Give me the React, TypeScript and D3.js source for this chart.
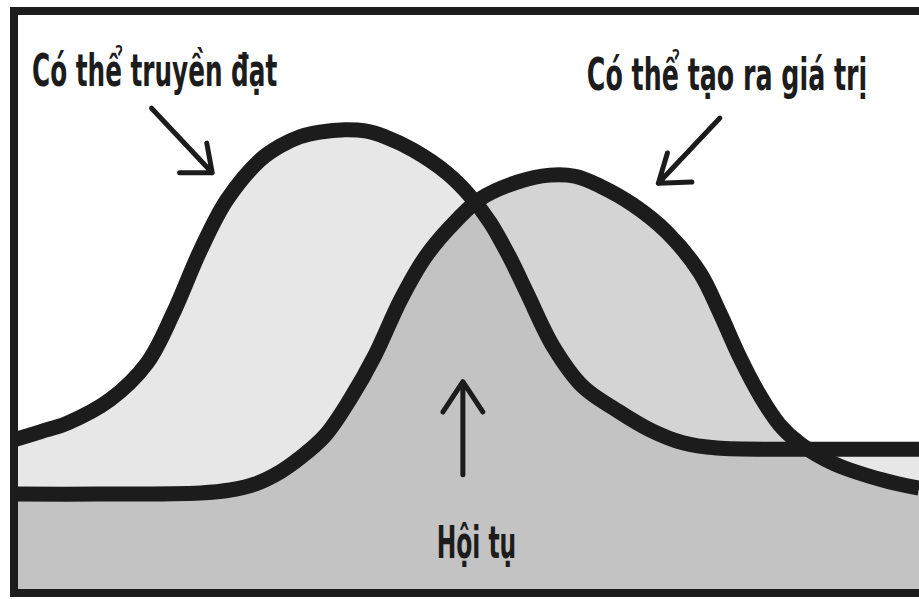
import React, { useLayoutEffect, useRef, useState } from "react";
import * as d3 from "d3";

// x in 0..100 (left frame -> right edge), y in 0..100 (bottom frame -> top frame)
const curveAX = [0, 2.9, 5.9, 10.6, 14.7, 17.6, 20.6, 23.5, 27.2, 29.4, 31.6, 33.8, 36.6, 38.8, 41.0, 44.1, 47.8, 50.4, 52.6, 54.8, 56.7, 59.6, 62.9, 66.6, 70.3, 73.9, 77.7, 86.9, 100];
const curveAY = [26.3, 27.7, 29.2, 33.2, 39.5, 48.1, 58.9, 67.5, 74.4, 76.8, 78.4, 79.2, 79.6, 79.4, 78.4, 76.1, 72.2, 68.2, 63.7, 57.6, 51.5, 42.3, 35.4, 31.4, 28.0, 25.8, 24.9, 24.7, 24.7];

const curveBX = [0, 9.5, 20.6, 23.9, 26.6, 29.4, 31.6, 34.4, 37.1, 39.9, 42.7, 45.4, 48.2, 51.5, 55.6, 59.2, 62.0, 64.8, 68.4, 72.2, 75.8, 78.0, 80.2, 82.4, 84.6, 86.9, 90.5, 96.0, 100];
const curveBY = [17.0, 17.0, 17.2, 17.7, 18.7, 20.8, 23.2, 27.1, 33.2, 40.9, 50.3, 57.6, 62.9, 67.7, 70.6, 71.8, 71.6, 69.9, 66.7, 61.9, 55.0, 48.1, 40.5, 34.0, 28.9, 25.6, 22.3, 19.4, 18.0];

const labels = ["Có thể truyền đạt", "Có thể tạo ra giá trị", "Hội tụ"];
const labelX = [2.0, 63.3, 46.7];
const labelY = [87.1, 86.4, 6.0];
const labelW = [27.1, 31.0, 8.8];

// arrows: [tailX, tailY, tipX, tipY, barb1X, barb1Y, barb2X, barb2Y]
const arrowLeft = [15.2, 83.3, 21.9, 72.2, 21.3, 77.3, 18.3, 72.2];
const arrowRight = [78.0, 81.6, 71.2, 70.4, 72.2, 75.6, 74.9, 70.6];
const arrowUp = [49.6, 20.3, 49.6, 36.3, 47.4, 31.1, 51.8, 31.1];

const W = 919;
const H = 599;
const left = 14;
const top = 11;
const bottom = 593;

export default function App() {
  const x = d3.scaleLinear().domain([0, 100]).range([left, W]);
  const y = d3.scaleLinear().domain([0, 100]).range([bottom, top]);

  const A = curveAX.map((v, i) => [v, curveAY[i]] as [number, number]);
  const B = curveBX.map((v, i) => [v, curveBY[i]] as [number, number]);

  const curve = d3.curveCatmullRom.alpha(0.5);
  const line = d3
    .line<[number, number]>()
    .x((d) => x(d[0]))
    .y((d) => y(d[1]))
    .curve(curve);
  const area = d3
    .area<[number, number]>()
    .x((d) => x(d[0]))
    .y0(y(0))
    .y1((d) => y(d[1]))
    .curve(curve);

  const ink = "#1c1c1c";
  const arrow = (a: number[]) =>
    `M${x(a[0])},${y(a[1])}L${x(a[2])},${y(a[3])}M${x(a[4])},${y(a[5])}L${x(a[2])},${y(a[3])}L${x(a[6])},${y(a[7])}`;

  const refs = useRef<(SVGTextElement | null)[]>([]);
  const [scales, setScales] = useState<number[] | null>(null);
  useLayoutEffect(() => {
    const s = labels.map((_, i) => {
      const el = refs.current[i];
      const w = el ? el.getBBox().width : 1;
      return (x(labelW[i]) - x(0)) / (w || 1);
    });
    setScales(s);
  }, []);

  return (
    <svg
      width={W}
      height={H}
      viewBox={`0 0 ${W} ${H}`}
      style={{ position: "absolute", left: 0, top: 0, display: "block", background: "#fff" }}
    >
      <defs>
        <clipPath id="frame">
          <rect x={left} y={top} width={W - left} height={bottom - top} />
        </clipPath>
        <clipPath id="underA">
          <path d={area(A) || ""} />
        </clipPath>
      </defs>
      <rect x={0} y={0} width={W} height={H} fill="#fff" />
      <g clipPath="url(#frame)">
        <path d={area(A) || ""} fill="#e7e7e7" />
        <path d={area(B) || ""} fill="#d4d4d4" />
        <path d={area(B) || ""} fill="#c3c3c3" clipPath="url(#underA)" />
        <path d={line(A) || ""} fill="none" stroke={ink} strokeWidth={15} />
        <path d={line(B) || ""} fill="none" stroke={ink} strokeWidth={15} />
      </g>
      <path
        d={`M${W},${top}L${left},${top}L${left},${bottom}L${W},${bottom}`}
        fill="none"
        stroke={ink}
        strokeWidth={8}
      />
      {[arrowLeft, arrowRight, arrowUp].map((a, i) => (
        <path
          key={i}
          d={arrow(a)}
          fill="none"
          stroke={ink}
          strokeWidth={5}
          strokeLinecap="round"
          strokeLinejoin="round"
        />
      ))}
      {labels.map((t, i) => (
        <text
          key={i}
          ref={(el) => {
            refs.current[i] = el;
          }}
          transform={`translate(${x(labelX[i])},${y(labelY[i])}) scale(${scales ? scales[i] : 1},1)`}
          visibility={scales ? "visible" : "hidden"}
          fontFamily="'Liberation Sans Narrow', 'DejaVu Sans Condensed', 'Roboto Condensed', sans-serif"
          fontWeight="bold"
          fontSize={44}
          fill={ink}
        >
          {t}
        </text>
      ))}
    </svg>
  );
}
